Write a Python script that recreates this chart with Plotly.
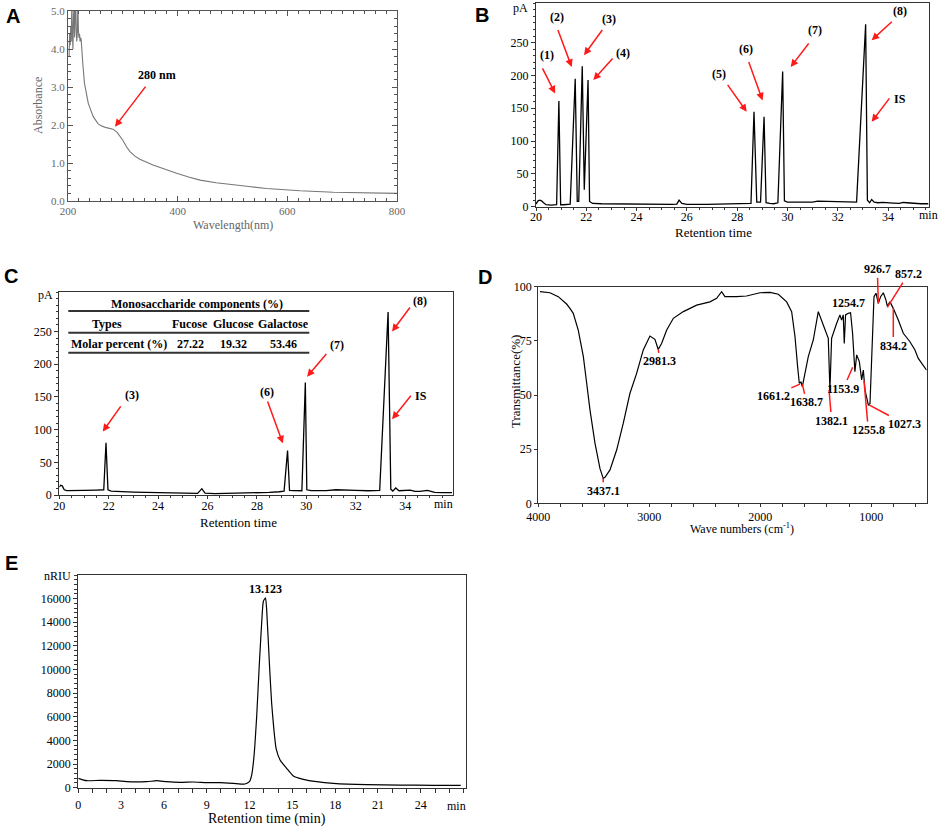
import plotly.graph_objects as go

# ---------------- data ----------------
# A: UV-vis spectrum
uv_nm = [202, 203, 204, 205, 206, 207, 208, 209, 210, 211, 212, 213, 214, 215, 216, 217,
         218, 219, 220, 221, 222, 223, 224, 227, 230, 237, 246, 255, 262, 270, 282, 290,
         300, 307, 313, 322, 331, 355, 375, 398, 420, 441, 470, 502, 530, 562, 600, 623,
         684, 745, 800]
uv_abs = [3.8, 4.4, 4.1, 4.6, 4.2, 5.2, 4.4, 4.0, 4.8, 5.3, 4.3, 4.6, 5.4, 4.5, 4.2, 4.4,
          5.2, 4.5, 4.3, 4.4, 4.2, 4.3, 4.25, 3.62, 3.1, 2.57, 2.22, 2.03, 1.97, 1.93, 1.89, 1.8,
          1.6, 1.42, 1.30, 1.18, 1.10, 0.95, 0.84, 0.73, 0.63, 0.55, 0.48, 0.42, 0.38, 0.33, 0.29, 0.27,
          0.23, 0.21, 0.2]

# B: standard monosaccharide chromatogram
std_time = [20.0, 20.08, 20.15, 20.22, 20.3, 20.4, 20.6, 20.82, 20.91, 20.98, 21.1, 21.36, 21.56,
            21.64, 21.7, 21.84, 21.92, 22.07, 22.13, 22.25, 22.6, 23.5, 24.5, 25.4, 25.6, 25.69,
            25.8, 26.0, 26.8, 27.6, 28.3, 28.55, 28.67, 28.78, 28.85, 28.93, 29.07, 29.15, 29.3,
            29.45, 29.62, 29.81, 29.88, 30.0, 30.5, 31.0, 31.2, 31.5, 32.0, 32.5, 32.75, 33.11,
            33.18, 33.27, 33.35, 33.45, 33.6, 33.8, 34.0, 34.2, 34.45, 34.6, 34.75, 35.0, 35.3, 35.6]
std_pa = [4, 9, 10, 9, 6, 3, 2.5, 3, 161, 3, 3, 4, 195,
          8, 8, 214, 26, 193, 8, 5, 4.5, 4, 3.5, 3.5, 4, 10,
          5, 3.5, 3.5, 4, 4, 5, 144.5, 7, 7, 7, 137, 6, 5,
          4.5, 6, 206, 9, 7, 7, 7, 8.5, 8, 7.5, 7, 7, 278,
          10, 6, 11, 7, 6, 6.5, 5.5, 5.5, 5, 6.5, 6, 5, 4.5, 4.5]
std_tags = ["(1)", "(2)", "(3)", "(4)", "(5)", "(6)", "(7)", "(8)", "IS"]
std_head_t = [20.76, 21.42, 21.91, 22.28, 28.38, 29.01, 30.13, 33.35, 33.35]
std_head_pa = [172.6, 213, 231, 193, 144.6, 162, 213, 253.7, 129.4]
std_tail_t = [20.23, 20.85, 22.68, 23.10, 27.58, 28.44, 30.89, 34.21, 34.10]
std_tail_pa = [213, 271.5, 271.5, 228, 188, 223, 251, 284, 167.4]
std_text_t = [20.45, 20.85, 22.91, 23.47, 27.29, 28.35, 31.09, 34.47, 34.47]
std_text_pa = [231, 289, 285.7, 233.5, 202, 241, 270, 298, 164]

# C: sample chromatogram
smp_time = [20.0, 20.05, 20.12, 20.2, 20.3, 20.6, 21.0, 21.5, 21.8, 21.89, 21.97, 22.1, 22.5, 23.0,
            23.5, 24.0, 24.5, 25.0, 25.6, 25.77, 25.9, 26.3, 27.0, 27.5, 28.0, 28.5, 28.9, 29.1,
            29.24, 29.32, 29.5, 29.82, 29.96, 30.02, 30.2, 30.8, 31.2, 31.6, 32.0, 32.5, 32.97,
            33.31, 33.42, 33.5, 33.62, 33.75, 34.0, 34.2, 34.4, 34.6, 34.9, 35.2, 35.5, 35.9]
smp_pa = [12, 15, 14, 8, 6.6, 6.5, 7, 7.5, 8, 80, 8, 6, 5, 4.5,
          4, 3.6, 4, 3, 2.5, 9.7, 3, 2, 2.5, 3, 3.5, 4, 5, 6,
          68, 7, 6.6, 6.5, 172, 8, 6.6, 6.6, 8, 7, 7, 6.5, 7,
          280, 9, 6, 10.7, 6.5, 6.5, 7.5, 5.5, 5.5, 7, 4, 3.5, 3.5]
smp_tags = ["(3)", "(6)", "(7)", "(8)", "IS"]
smp_head_t = [21.76, 29.05, 30.03, 33.47, 33.47]
smp_head_pa = [97, 79, 181, 250, 115.8]
smp_tail_t = [22.53, 28.41, 30.86, 34.24, 34.28]
smp_tail_pa = [137.8, 145.4, 217.9, 289, 154]
smp_text_t = [22.93, 28.41, 31.24, 34.62, 34.65]
smp_text_pa = [153, 158, 229.6, 296, 152]

# table inside C
sugar_types = ["Fucose", "Glucose", "Galactose"]
molar_pct = ["27.22", "19.32", "53.46"]

# D: FT-IR spectrum
ir_wn = [3985, 3895, 3820, 3745, 3715, 3685, 3640, 3594, 3564, 3534, 3489, 3444, 3415, 3399,
         3354, 3294, 3234, 3174, 3114, 3054, 2994, 2949, 2919, 2889, 2843, 2783, 2693, 2573,
         2453, 2393, 2348, 2318, 2213, 2123, 2002, 1912, 1837, 1762, 1717, 1687, 1663, 1648,
         1633, 1621, 1597, 1567, 1522, 1477, 1432, 1387, 1372, 1357, 1312, 1282, 1267, 1252,
         1243, 1231, 1207, 1186, 1168, 1156, 1147, 1131, 1107, 1086, 1071, 1056, 1026, 1011,
         996, 975, 957, 936, 915, 891, 867, 855, 831, 801, 756, 711, 651, 606, 576, 546, 516, 501]
ir_t = [97.7, 97.2, 95.4, 92, 90, 87.7, 80, 67.7, 55.4, 43, 27.7, 16, 11.5, 12,
        15.4, 24.6, 37, 50.8, 60, 70.8, 77.2, 75.7, 71, 73.8, 80, 85.4, 88.5, 91.5,
        93, 94.6, 97.7, 95.4, 95.4, 95.7, 97.2, 97.4, 96.5, 93, 88.5, 77, 63, 55.4,
        56, 53.8, 60, 67.7, 75.4, 88.5, 82.3, 76.2, 52.3, 76.2, 83, 87, 84.6, 87,
        73.8, 87, 87.7, 88, 78.5, 64.6, 60.8, 68.5, 65.4, 57, 61.5, 52.3, 45.4, 46,
        70.8, 95.4, 97, 92.3, 95.4, 97.2, 93.8, 91, 93, 90, 84.6, 78.5, 74.6, 70.8, 66.9, 64.6, 62.3, 61.5]
ir_tags = ["3437.1", "2981.3", "1661.2", "1638.7", "1382.1", "1153.9", "1255.8", "1027.3",
           "926.7", "857.2", "834.2"]
ir_pt_wn = [3415, 2919, 1642, 1621, 1380, 1167, 1065, 1020, 936, 855, 801]
ir_pt_t = [11.5, 71, 55, 55, 52.3, 62.8, 56.6, 45.4, 92.3, 90.5, 90]
ir_txt_wn = [3415, 2904, 1882, 1582, 1357, 1251, 1026, 696, 945, 666, 801]
ir_txt_t = [5.8, 65.5, 49.7, 46.6, 38.2, 53, 33.8, 36.6, 108, 105.8, 72.8]
ir_free_tag, ir_free_wn, ir_free_t = "1254.7", 1206, 92.3

# E: HPGPC chromatogram
gpc_time = [0, 0.58, 1.52, 2.69, 3.39, 4.79, 5.49, 6.19, 7.13, 8.06, 9.0, 9.93, 10.86, 11.68,
            11.99, 12.15, 12.31, 12.5, 12.69, 12.85, 12.97, 13.12, 13.2, 13.39, 13.55, 13.71,
            13.86, 14.14, 14.6, 15.07, 15.77, 16.71, 17.87, 20.21, 22.55, 24.88, 26.8]
gpc_nriu = [792, 594, 622, 594, 509, 509, 594, 509, 452, 481, 424, 424, 367, 311,
            509, 1074, 2629, 6021, 10545, 13937, 15775, 16060, 15068, 10545, 7152, 4891,
            3336, 2346, 1640, 990, 707, 509, 367, 254, 226, 198, 198]
gpc_peak_label = "13.123"

# ---------------- layout helpers ----------------
W, H = 941, 829
SERIF = "Liberation Serif, Times New Roman, serif"
SANS = "Liberation Sans, Arial, sans-serif"
RED = "#ff1a1a"


def fx(p):
    return p / W


def fy(p):
    return 1 - p / H


def frame_axis(dom, rng, **kw):
    ax = dict(domain=dom, range=rng, showline=True, mirror=True, linecolor="#333",
              linewidth=1.2, showgrid=False, zeroline=False, ticks="outside",
              tickcolor="#333", ticklen=4, automargin=False,
              tickfont=dict(family=SERIF, size=12, color="black"))
    ax.update(kw)
    return ax


fig = go.Figure()
line_kw = dict(mode="lines", showlegend=False, hoverinfo="skip")
fig.add_trace(go.Scatter(x=uv_nm, y=uv_abs, line=dict(color="#777", width=1.1),
                         xaxis="x", yaxis="y", **line_kw))
fig.add_trace(go.Scatter(x=std_time, y=std_pa, line=dict(color="black", width=1.3),
                         xaxis="x2", yaxis="y2", **line_kw))
fig.add_trace(go.Scatter(x=smp_time, y=smp_pa, line=dict(color="black", width=1.3),
                         xaxis="x3", yaxis="y3", **line_kw))
fig.add_trace(go.Scatter(x=ir_wn, y=ir_t, line=dict(color="black", width=1.2),
                         xaxis="x4", yaxis="y4", **line_kw))
fig.add_trace(go.Scatter(x=gpc_time, y=gpc_nriu, line=dict(color="black", width=1.2, shape="spline", smoothing=0.5),
                         xaxis="x5", yaxis="y5", **line_kw))

grey_font = dict(family=SERIF, size=11, color="#666")

fig.update_layout(
    width=W, height=H, margin=dict(l=0, r=0, t=0, b=0, autoexpand=False),
    paper_bgcolor="white", plot_bgcolor="white", showlegend=False,
    font=dict(family=SERIF, color="black"),
    modebar=dict(bgcolor="rgba(0,0,0,0)", color="rgba(0,0,0,0)", activecolor="rgba(0,0,0,0)"),
    xaxis=frame_axis([fx(68), fx(397)], [200, 800], anchor="y", tickvals=[200, 400, 600, 800],
                     ticks="inside", ticklen=5, mirror="ticks", linecolor="#555", tickcolor="#555",
                     tickfont=grey_font, minor=dict(dtick=20, ticklen=3, ticks="inside", tickcolor="#555")),
    yaxis=frame_axis([fy(201), fy(11)], [0, 5], anchor="x", dtick=1, tickformat=".1f",
                     ticks="inside", ticklen=5, mirror="ticks", linecolor="#555", tickcolor="#555",
                     tickfont=grey_font, minor=dict(dtick=0.2, ticklen=3, ticks="inside", tickcolor="#555")),
    xaxis2=frame_axis([fx(536), fx(929)], [20, 35.63], anchor="y2", tickvals=list(range(20, 35, 2)),
                      ticklen=3, ticklabelstandoff=-4, minor=dict(dtick=0.5, ticklen=2, tickcolor="#333")),
    yaxis2=frame_axis([fy(206.7), fy(3.3)], [0, 310], anchor="x2", tickvals=list(range(0, 251, 50)),
                      minor=dict(dtick=10, ticklen=2, tickcolor="#333")),
    xaxis3=frame_axis([fx(59.3), fx(453.3)], [20, 35.95], anchor="y3", tickvals=list(range(20, 35, 2)),
                      ticklen=3, ticklabelstandoff=-4, minor=dict(dtick=0.5, ticklen=2, tickcolor="#333")),
    yaxis3=frame_axis([fy(495), fy(292.3)], [0, 310], anchor="x3", tickvals=list(range(0, 251, 50)),
                      minor=dict(dtick=10, ticklen=2, tickcolor="#333")),
    xaxis4=frame_axis([fx(538.3), fx(926.7)], [4000, 500], anchor="y4", tickvals=[4000, 3000, 2000, 1000],
                      ticklen=3, ticklabelstandoff=-1, minor=dict(dtick=200, ticklen=3, tickcolor="#333")),
    yaxis4=frame_axis([fy(503.3), fy(286.7)], [0, 100], anchor="x4", dtick=25, ticklen=3),
    xaxis5=frame_axis([fx(78.3), fx(466)], [0, 27.17], anchor="y5", tickvals=list(range(0, 25, 3)),
                      ticklen=4, ticklabelstandoff=2, minor=dict(dtick=1, ticklen=4, tickcolor="#333")),
    yaxis5=frame_axis([fy(787.7), fy(575)], [0, 18000], anchor="x5", tickvals=list(range(0, 16001, 2000)),
                      tickformat="d", ticklen=4, minor=dict(dtick=400, ticklen=3, tickcolor="#333")),
)

ann = []


def text_px(x, y, s, size=12, bold=False, color="black", family=SERIF, angle=0):
    ann.append(dict(x=fx(x), y=fy(y), xref="paper", yref="paper", text=f"<b>{s}</b>" if bold else s,
                    showarrow=False, font=dict(family=family, size=size, color=color),
                    xanchor="center", yanchor="middle", textangle=angle))


# panel letters
for letter, lx, ly in [("A", 13, 16), ("B", 482, 15), ("C", 11, 276), ("D", 485, 277), ("E", 11, 563)]:
    text_px(lx, ly, letter, size=20, bold=True, family=SANS)

# axis titles
text_px(233, 225, "Wavelength(nm)", size=12, color="#666")
text_px(38, 106, "Absorbance", size=12, color="#666", angle=-90)
text_px(713, 232, "Retention time", size=13)
text_px(238, 522, "Retention time", size=13)
text_px(742, 528, "Wave numbers (cm<sup>-1</sup>)", size=12)
text_px(515, 382, "Transmittance(%)", size=13, angle=-90)
text_px(267, 819, "Retention time (min)", size=14)

# unit labels
text_px(520, 8, "pA", size=12)
text_px(45, 295, "pA", size=12)
text_px(57, 576, "nRIU", size=12)
text_px(928, 215, "min", size=12)
text_px(443, 504, "min", size=12)
text_px(456, 806, "min", size=12)


def arrow_set(xr, yr, tags, ht, hy, tt, ty, xt, yt):
    for tag, a, b, c, d, e, f in zip(tags, ht, hy, tt, ty, xt, yt):
        ann.append(dict(x=a, y=b, ax=c, ay=d, xref=xr, yref=yr, axref=xr, ayref=yr, text="",
                        showarrow=True, arrowhead=2, arrowsize=1, arrowwidth=1.5, arrowcolor=RED))
        ann.append(dict(x=e, y=f, xref=xr, yref=yr, text=f"<b>{tag}</b>", showarrow=False,
                        font=dict(family=SERIF, size=12, color="black")))


arrow_set("x2", "y2", std_tags, std_head_t, std_head_pa, std_tail_t, std_tail_pa, std_text_t, std_text_pa)
arrow_set("x3", "y3", smp_tags, smp_head_t, smp_head_pa, smp_tail_t, smp_tail_pa, smp_text_t, smp_text_pa)

# A arrow
ann.append(dict(x=285.7, y=1.955, ax=343.5, ay=3.05, xref="x", yref="y", axref="x", ayref="y", text="",
                showarrow=True, arrowhead=2, arrowsize=1, arrowwidth=1.5, arrowcolor=RED))
ann.append(dict(x=363, y=3.32, xref="x", yref="y", text="<b>280 nm</b>", showarrow=False,
                font=dict(family=SERIF, size=12, color="black")))

# D peak labels with red leader lines
for tag, a, b, c, d in zip(ir_tags, ir_pt_wn, ir_pt_t, ir_txt_wn, ir_txt_t):
    ann.append(dict(x=a, y=b, ax=c, ay=d, xref="x4", yref="y4", axref="x4", ayref="y4",
                    text=f"<b>{tag}</b>", showarrow=True, arrowhead=0, arrowwidth=1.5,
                    arrowcolor=RED, standoff=0, font=dict(family=SERIF, size=12, color="black")))
ann.append(dict(x=ir_free_wn, y=ir_free_t, xref="x4", yref="y4", text=f"<b>{ir_free_tag}</b>",
                showarrow=False, font=dict(family=SERIF, size=12, color="black")))

# E peak label
ann.append(dict(x=13.123, y=16800, xref="x5", yref="y5", text=f"<b>{gpc_peak_label}</b>",
                showarrow=False, font=dict(family=SERIF, size=12, color="black")))

# table in C
text_px(196.7, 304, "Monosaccharide components (%)", size=12, bold=True)
text_px(106.7, 324, "Types", size=12, bold=True)
text_px(119.3, 344.3, "Molar percent (%)", size=12, bold=True)
for name, val, cx in zip(sugar_types, molar_pct, [190, 233.3, 283.5]):
    text_px(cx, 324, name, size=12, bold=True)
    text_px(cx, 344.3, val, size=12, bold=True)

shapes = []
for ly in [311, 332.7, 352.7]:
    shapes.append(dict(type="line", xref="paper", yref="paper", x0=fx(68.3), x1=fx(309.3),
                       y0=fy(ly), y1=fy(ly), line=dict(color="#333", width=2)))

fig.update_layout(annotations=ann, shapes=shapes)

# drop the default 8px page margin so the 941x829 figure fills the window exactly
fig.write_html("out.html", config={"displayModeBar": False},
               post_script="document.body.style.margin='0px';")
